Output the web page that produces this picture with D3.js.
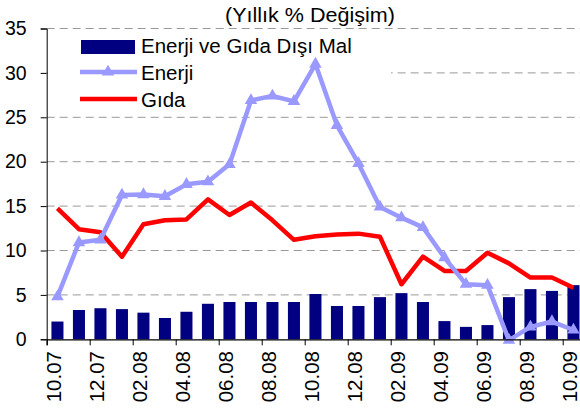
<!DOCTYPE html>
<html>
<head>
<meta charset="utf-8">
<script src="https://cdn.jsdelivr.net/npm/d3@7"></script>
<style>
  body { margin: 0; background: #fff; }
  svg text { font-family: "Liberation Sans", Arial, sans-serif; fill: #000; }
</style>
</head>
<body>
<svg width="580" height="412"></svg>
<script>
var months = ["10.07","11.07","12.07","01.08","02.08","03.08","04.08","05.08","06.08","07.08","08.08","09.08",
              "10.08","11.08","12.08","01.09","02.09","03.09","04.09","05.09","06.09","07.09","08.09","09.09","10.09"];
var coreGoods = [2.0,3.3,3.5,3.4,3.0,2.4,3.1,4.0,4.2,4.2,4.2,4.2,5.1,3.75,3.75,4.75,5.2,4.2,2.05,1.4,1.6,4.75,5.65,5.45,6.1];
var energy = [4.8,10.9,11.2,16.25,16.3,16.1,17.45,17.75,19.7,26.9,27.4,26.8,31.0,24.1,19.8,14.9,13.7,12.6,9.2,6.2,6.1,-0.1,1.4,2.0,1.05];
var food = [14.75,12.4,12.05,9.3,12.95,13.4,13.5,15.75,14.0,15.4,13.4,11.2,11.6,11.8,11.9,11.55,6.2,9.3,7.7,7.7,9.75,8.55,6.95,6.95,5.8];
var yTicks = [0,5,10,15,20,25,30,35];
var seriesNames = ["Enerji ve Gıda Dışı Mal","Enerji","Gıda"];

var svg = d3.select("svg"),
    plotLeft = 46.7, plotRight = 584.2, plotTop = 28.5, plotBottom = 339.3;

var x = d3.scaleBand().domain(months).range([plotLeft, plotRight]).paddingInner(0.44).paddingOuter(0.22);
var xi = d3.scaleLinear().domain([0, months.length]).range([plotLeft, plotRight]);
var y = d3.scaleLinear().domain([0, 35]).range([plotBottom, plotTop]);
var cx = function(d) { return x(d) + x.bandwidth() / 2; };

// title
svg.append("text")
    .attr("x", 310).attr("y", 22)
    .attr("text-anchor", "middle")
    .style("font-size", "21px")
    .attr("textLength", 170).attr("lengthAdjust", "spacingAndGlyphs")
    .text("(Yıllık % Değişim)");

// gridlines
svg.append("g").selectAll("line")
    .data(yTicks.slice(1))
  .enter().append("line")
    .attr("x1", plotLeft).attr("x2", 580)
    .attr("y1", function(d) { return y(d); })
    .attr("y2", function(d) { return y(d); })
    .style("stroke", "#999")
    .style("stroke-dasharray", "8,5")
    .style("stroke-width", 1);

// legend background (sits under the series)
svg.append("rect")
    .attr("x", plotLeft + 1).attr("y", 33)
    .attr("width", 391 - plotLeft - 1).attr("height", 79)
    .style("fill", "#fff");

// bars
svg.append("g").selectAll("rect")
    .data(coreGoods)
  .enter().append("rect")
    .attr("x", function(d, i) { return x(months[i]); })
    .attr("width", x.bandwidth())
    .attr("y", function(d) { return y(Math.max(d, 0)); })
    .attr("height", function(d) { return Math.abs(y(d) - y(0)); })
    .style("fill", "#000080");

var line = d3.line()
    .x(function(d, i) { return cx(months[i]); })
    .y(function(d) { return y(d); });

svg.append("path")
    .datum(food)
    .attr("d", line)
    .style("fill", "none").style("stroke", "#ff0000")
    .style("stroke-width", 4.5).style("stroke-linejoin", "round");

svg.append("path")
    .datum(energy)
    .attr("d", line)
    .style("fill", "none").style("stroke", "#9999ff")
    .style("stroke-width", 4.5).style("stroke-linejoin", "round");

var tri = d3.symbol().type(d3.symbolTriangle).size(68);
svg.append("g").selectAll("path")
    .data(energy)
  .enter().append("path")
    .attr("d", tri)
    .attr("transform", function(d, i) { return "translate(" + cx(months[i]) + "," + y(d) + ")"; })
    .style("fill", "#9999ff");

// y axis
var yAxis = svg.append("g")
    .attr("transform", "translate(" + plotLeft + ",0)")
    .call(d3.axisLeft(y).tickValues(yTicks).tickSize(6).tickPadding(14));
yAxis.select(".domain").style("stroke", "#000");
yAxis.selectAll("line").style("stroke", "#000");
yAxis.selectAll("text").style("font-size", "19.5px").style("font-family", "Liberation Sans, Arial");

// x axis
var xAxis = svg.append("g")
    .attr("transform", "translate(0," + plotBottom + ")")
    .call(d3.axisBottom(xi).tickValues(d3.range(0, months.length, 2)).tickSize(6).tickFormat(""));
xAxis.select(".domain").style("stroke", "#000").style("stroke-width", 1.3);
xAxis.selectAll("line").style("stroke", "#000");

svg.append("g").selectAll("text")
    .data(months.filter(function(d, i) { return i % 2 === 0; }))
  .enter().append("text")
    .attr("transform", function(d) { return "translate(" + (cx(d) - 4) + ",351) rotate(-90)"; })
    .attr("text-anchor", "end")
    .attr("dy", "0.35em")
    .style("font-size", "20.5px")
    .text(function(d) { return d; });

// legend
var lg = svg.append("g");
lg.append("rect").attr("x", 81).attr("y", 40).attr("width", 54).attr("height", 14).style("fill", "#000080");
lg.append("line").attr("x1", 80).attr("x2", 137).attr("y1", 72).attr("y2", 72)
    .style("stroke", "#9999ff").style("stroke-width", 4.5);
lg.append("path").attr("d", tri).attr("transform", "translate(108,72)").style("fill", "#9999ff");
lg.append("line").attr("x1", 80).attr("x2", 137).attr("y1", 99).attr("y2", 99)
    .style("stroke", "#ff0000").style("stroke-width", 4.5);
lg.selectAll("text.lbl")
    .data(seriesNames)
  .enter().append("text")
    .attr("class", "lbl")
    .attr("x", 141)
    .attr("y", function(d, i) { return 53 + i * 27; })
    .style("font-size", "20.5px")
    .text(function(d) { return d; });
</script>
</body>
</html>
